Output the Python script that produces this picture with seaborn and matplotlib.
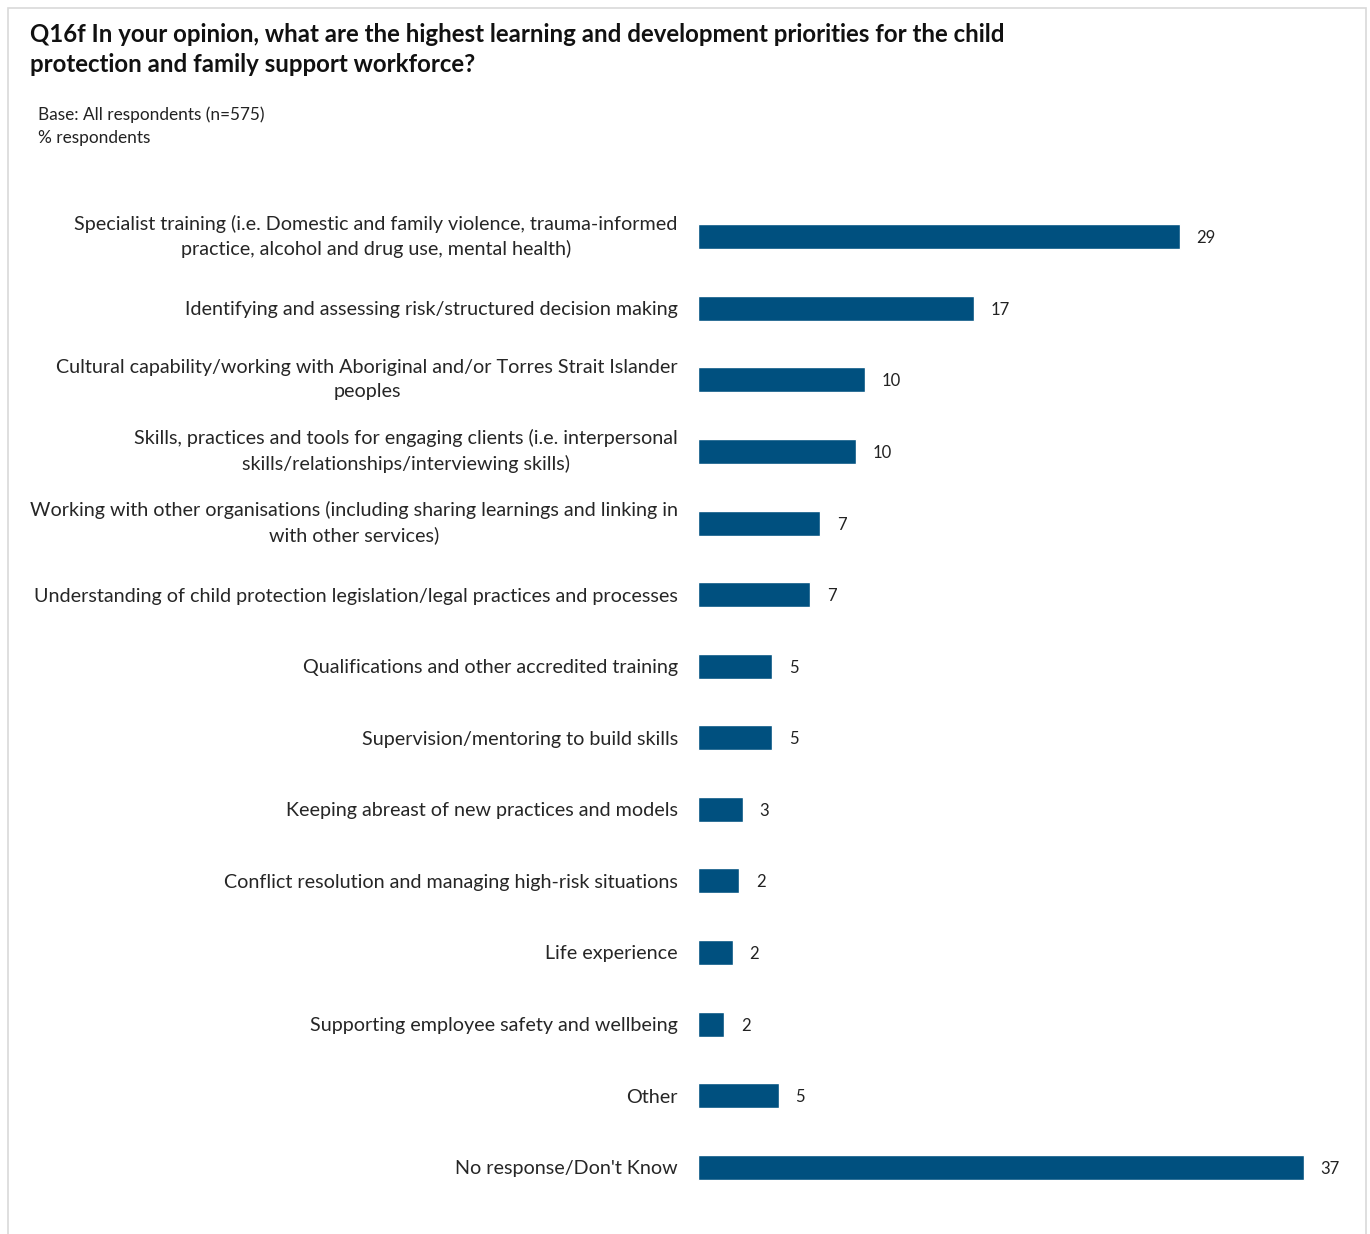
import pandas as pd
import seaborn as sns
import matplotlib.pyplot as plt
import matplotlib.transforms as mtransforms
from matplotlib.patches import Rectangle

categories = [
    'Specialist training (i.e. Domestic and family violence, trauma-informed\npractice, alcohol and drug use, mental health)',
    'Identifying and assessing risk/structured decision making',
    'Cultural capability/working with Aboriginal and/or Torres Strait Islander\npeoples',
    'Skills, practices and tools for engaging clients (i.e. interpersonal\nskills/relationships/interviewing skills)',
    'Working with other organisations (including sharing learnings and linking in\nwith other services)',
    'Understanding of child protection legislation/legal practices and processes',
    'Qualifications and other accredited training',
    'Supervision/mentoring to build skills',
    'Keeping abreast of new practices and models',
    'Conflict resolution and managing high-risk situations',
    'Life experience',
    'Supporting employee safety and wellbeing',
    'Other',
    "No response/Don't Know",
]
values = [29.2, 16.7, 10.1, 9.6, 7.4, 6.8, 4.5, 4.5, 2.7, 2.5, 2.1, 1.6, 4.9, 36.7]
value_labels = ['29', '17', '10', '10', '7', '7', '5', '5', '3', '2', '2', '2', '5', '37']

bar_color = '#00507F'

df = pd.DataFrame({'item': categories, 'pct': values})

sns.set_style('white')
plt.rcParams['font.family'] = ['Lato', 'DejaVu Sans']

fig = plt.figure(figsize=(13.7, 12.34), dpi=100)
ax = fig.add_axes([698 / 1370, 1 - 1203 / 1234, 660 / 1370, (1203 - 201) / 1234])

sns.barplot(data=df, x='pct', y='item', color=bar_color, width=0.35,
            saturation=1, ax=ax, orient='h')
ax.set_xlim(0, 40)
ax.set_ylim(13.5, -0.5)
texts = ax.bar_label(ax.containers[0], labels=value_labels, padding=12, fontsize=12, color='#222222')
for t in texts:
    t.set_verticalalignment('center_baseline')

ax.set_xlabel('')
ax.set_ylabel('')
ax.set_xticks([])
ax.tick_params(axis='y', length=0, pad=14.5, labelsize=14.2)
# nudge the two-line labels up a little so they sit centred on the bars
shift_up = mtransforms.ScaledTranslation(0, 4 / 72, fig.dpi_scale_trans)
for lbl in ax.get_yticklabels():
    lbl.set_horizontalalignment('right')
    lbl.set_multialignment('center')
    lbl.set_linespacing(1.5)
    if '\n' in lbl.get_text():
        lbl.set_transform(lbl.get_transform() + shift_up)
sns.despine(ax=ax, left=True, bottom=True)

# light grey frame around the chart
fig.patches.append(Rectangle((8 / 1370, -0.05), (1366 - 8) / 1370, 1.05 - 8 / 1234,
                             transform=fig.transFigure, fill=False,
                             edgecolor='#D9D9D9', linewidth=1.2))

fig.text(30 / 1370, 1 - 34 / 1234,
         'Q16f In your opinion, what are the highest learning and development priorities for the child',
         fontsize=17.3, fontweight='bold', va='center', ha='left', color='#111111')
fig.text(30 / 1370, 1 - 65 / 1234, 'protection and family support workforce?',
         fontsize=17.3, fontweight='bold', va='center', ha='left', color='#111111')
fig.text(38 / 1370, 1 - 115 / 1234, 'Base: All respondents (n=575)', fontsize=12.4, va='center', color='#222222')
fig.text(38 / 1370, 1 - 138 / 1234, '% respondents', fontsize=12.4, va='center', color='#222222')

fig.savefig('out.png', dpi=100)
